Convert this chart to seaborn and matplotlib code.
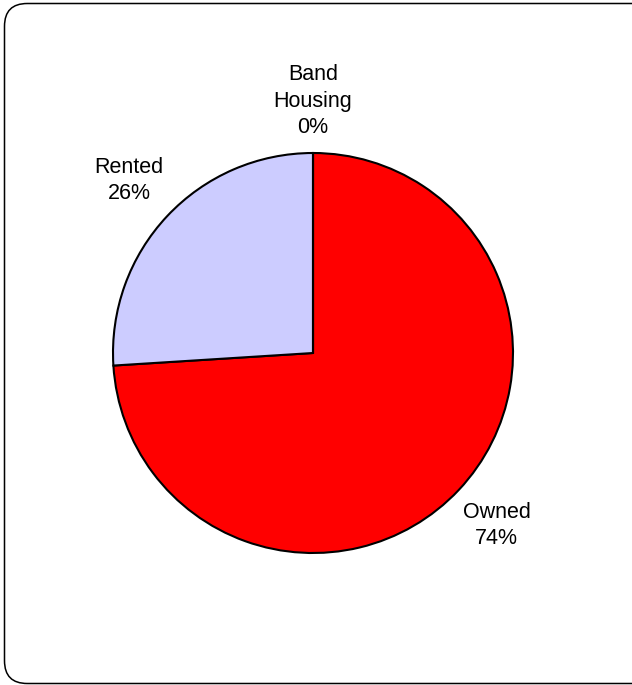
import matplotlib.pyplot as plt
import seaborn as sns
from matplotlib.patches import FancyBboxPatch

# Data
categories = ['Owned', 'Rented', 'Band Housing']
shares = [74, 26, 0]
slice_colors = ['#FF0000', '#CCCCFF', '#FFFFFF']

sns.set_theme(style='white')
plt.rcParams['font.family'] = ['Liberation Sans', 'DejaVu Sans']

W, H = 632, 685
fig = plt.figure(figsize=(W / 100, H / 100), dpi=100)
fig.patch.set_facecolor('white')

# rounded frame around the chart area
frame = FancyBboxPatch((4.5 / W, 1.5 / H), (W + 20) / W, (H - 5) / H,
                       boxstyle='round,pad=0,rounding_size=0.036',
                       transform=fig.transFigure, facecolor='none',
                       edgecolor='black', linewidth=1.1, mutation_aspect=W / H)
fig.patches.append(frame)

# pie axes: centre (313, 353) px, radius 200 px
ax = fig.add_axes([113 / W, (H - 353 - 200) / H, 400 / W, 400 / H])

labels = [f"{c.replace(' ', chr(10))}\n{v}%" for c, v in zip(categories, shares)]
ax.pie(shares, labels=labels, colors=slice_colors, startangle=90, counterclock=False,
       labeldistance=1.26,
       wedgeprops={'edgecolor': 'black', 'linewidth': 1.5},
       textprops={'ha': 'center', 'va': 'center', 'fontsize': 15.5, 'color': 'black',
                  'linespacing': 1.32})
ax.set_xlim(-1, 1)
ax.set_ylim(-1, 1)
ax.set_aspect('equal')
ax.axis('off')

fig.savefig('out.png', dpi=100)
